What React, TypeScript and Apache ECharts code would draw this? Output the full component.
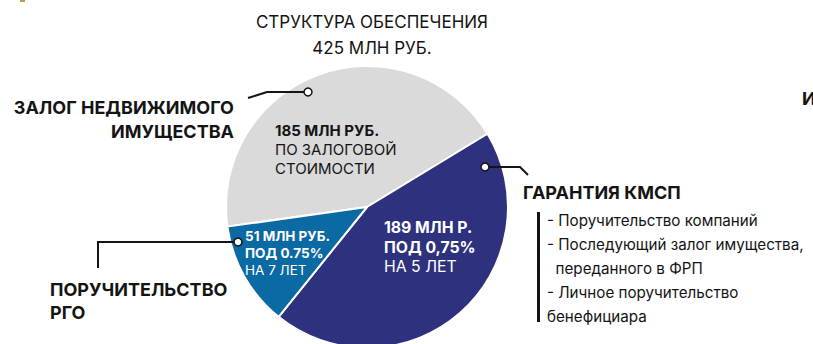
import React, { useEffect, useRef } from "react";
import * as echarts from "echarts";

// Structure of the collateral, million roubles
const segments = ["Залог недвижимого имущества", "Гарантия КМСП", "Поручительство РГО"];
const amounts = [185, 189, 51];
const sliceColors = ["#dadada", "#2e317e", "#0b69a3"];

const titleLine = "СТРУКТУРА ОБЕСПЕЧЕНИЯ";
const guaranteeItems = [
  "- Поручительство компаний",
  "- Последующий залог имущества,",
  "  переданного в ФРП",
  "- Личное поручительство",
  "бенефициара",
];

const FONT = 'Inter, "Open Sans", "DejaVu Sans", sans-serif';

function txt(x: number, y: number, text: string, size: number, weight: string, fill: string, align = "left") {
  return {
    type: "text",
    x,
    y,
    z: 110,
    silent: true,
    style: {
      text,
      fill,
      font: `${weight} ${size}px ${FONT}`,
      align,
      verticalAlign: "middle",
    },
  };
}

// multi-line block: lines are [text, bold] pairs, stacked with a fixed line height
function block(
  x: number,
  yTop: number,
  lines: [string, boolean][],
  size: number,
  lh: number,
  fill: string,
  align = "left"
) {
  return {
    type: "text",
    x,
    y: yTop,
    z: 110,
    silent: true,
    style: {
      text: lines.map(([t, b]) => `{${b ? "b" : "r"}|${t}}`).join("\n"),
      fill,
      align,
      verticalAlign: "top",
      rich: {
        b: { fontFamily: FONT, fontSize: size, fontWeight: "bold", fill, lineHeight: lh },
        r: { fontFamily: FONT, fontSize: size, fontWeight: "normal", fill, lineHeight: lh },
      },
    },
  };
}

export default function App() {
  const ref = useRef<HTMLDivElement>(null);

  useEffect(() => {
    if (!ref.current) return;
    const chart = echarts.init(ref.current, null, { renderer: "svg" });
    const total = amounts.reduce((a, b) => a + b, 0);
    const ink = "#141414";

    const line = (points: number[][]) => ({
      type: "polyline",
      z: 105,
      silent: true,
      shape: { points },
      style: { stroke: ink, lineWidth: 2, fill: null },
    });
    const dot = (cx: number, cy: number) => ({
      type: "circle",
      z: 106,
      silent: true,
      shape: { cx, cy, r: 4 },
      style: { fill: "#fff", stroke: ink, lineWidth: 1.5 },
    });

    chart.setOption({
      animation: false,
      series: [
        {
          type: "pie",
          center: [367, 207],
          radius: 141,
          startAngle: 188,
          clockwise: true,
          silent: true,
          label: { show: false },
          labelLine: { show: false },
          itemStyle: { borderColor: "#ffffff", borderWidth: 2 },
          data: segments.map((name, i) => ({
            name,
            value: amounts[i],
            itemStyle: { color: sliceColors[i] },
          })),
        },
      ],
      graphic: [
        // heading
        block(372, 9, [[titleLine, false], [`${total} МЛН РУБ.`, false]], 17, 26, ink, "center"),

        // labels inside the slices
        block(275, 121, [
          [`${amounts[0]} МЛН РУБ.`, true],
          ["ПО ЗАЛОГОВОЙ", false],
          ["СТОИМОСТИ", false],
        ], 15, 19, ink),
        block(384, 218, [
          [`${amounts[1]} МЛН Р.`, true],
          ["ПОД 0,75%", true],
          ["НА 5 ЛЕТ", false],
        ], 15.8, 19.5, "#fff"),
        block(245, 227, [
          [`${amounts[2]} МЛН РУБ.`, true],
          ["ПОД 0.75%", true],
          ["НА 7 ЛЕТ", false],
        ], 13.5, 17, "#fff"),

        // callout: real estate pledge
        line([[304, 92], [267, 92], [248, 98]]),
        dot(308, 92),
        txt(234, 107, "ЗАЛОГ НЕДВИЖИМОГО", 18, "bold", ink, "right"),
        txt(234, 131, "ИМУЩЕСТВА", 18, "bold", ink, "right"),

        // callout: KMSP guarantee
        line([[489, 167], [520, 167], [528, 175]]),
        dot(485, 167),
        txt(523, 192, "ГАРАНТИЯ КМСП", 18, "bold", ink),
        {
          type: "rect",
          z: 105,
          silent: true,
          shape: { x: 537, y: 212, width: 3, height: 110 },
          style: { fill: ink },
        },
        txt(547, 220, guaranteeItems[0], 15.2, "normal", ink),
        txt(547, 244, guaranteeItems[1], 15.2, "normal", ink),
        txt(547, 268, guaranteeItems[2], 15.2, "normal", ink),
        txt(547, 292, guaranteeItems[3], 15.2, "normal", ink),
        txt(547, 316, guaranteeItems[4], 15.2, "normal", ink),

        // callout: RGO surety
        line([[234, 242], [98, 242], [98, 268]]),
        dot(238, 242),
        block(50, 278, [["ПОРУЧИТЕЛЬСТВО", true], ["РГО", true]], 18, 23, ink),

        // start of the neighbouring heading at the right edge
        txt(802, 98, "И", 18, "bold", ink),
        {
          type: "rect",
          z: 105,
          silent: true,
          shape: { x: 20, y: 0, width: 5, height: 2 },
          style: { fill: "#b5a24a" },
        },
      ],
    });

    return () => chart.dispose();
  }, []);

  return (
    <div
      ref={ref}
      style={{ position: "fixed", left: 0, top: 0, width: 813, height: 344, background: "#fff" }}
    />
  );
}
